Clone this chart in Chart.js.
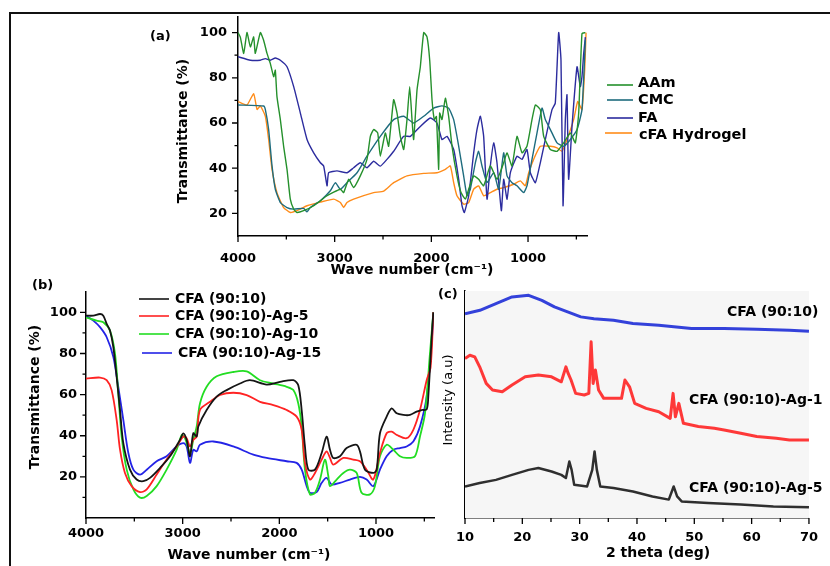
<!DOCTYPE html>
<html>
<head>
<meta charset="utf-8">
<script src="https://cdn.jsdelivr.net/npm/chart.js@4.4.1/dist/chart.umd.min.js"></script>
<style>
  body { margin: 0; background: #fff; width: 830px; height: 566px; overflow: hidden; position: relative; }
  canvas { position: absolute; }
  #frame { position: absolute; left: 9px; top: 12px; width: 821px; height: 554px;
           border-left: 2px solid #111; border-top: 2px solid #111; }
</style>
</head>
<body>
<div id="frame"></div>
<canvas id="chartA" width="690" height="286" style="left:140px;top:-2px"></canvas>
<canvas id="chartB" width="430" height="291" style="left:11px;top:275px"></canvas>
<canvas id="chartC" width="398" height="291" style="left:432px;top:275px"></canvas>
<script>
// ---- (a) FTIR of the raw materials ----
const aamWn = [4000,3976,3941,3907,3872,3838,3821,3769,3735,3700,3666,3631,3614,3597,3562,3528,3493,3459,3424,3390,3321,3217,3079,2941,2907,2855,2804,2735,2666,2631,2597,2555,2528,2476,2442,2390,2355,2321,2286,2252,2224,2200,2183,2148,2114,2079,2045,2017,1993,1969,1948,1924,1914,1890,1855,1821,1786,1735,1693,1648,1614,1562,1511,1459,1390,1321,1252,1217,1166,1114,1062,1011,959,924,873,838,769,700,631,562,511,476,442,407];
const aamT  = [100,98,90.8,100,93.7,98.1,90.8,100,96.6,90.8,86.4,80.5,83.4,71.7,61.5,49.7,39.5,26.3,21.9,20.4,21.2,23.4,27.8,30.7,29.2,35.1,31.4,36.6,43.9,54.1,57.1,55.6,45.3,55.6,49.7,70.3,64.4,54.1,48.3,61.5,76.1,61.5,52.7,74.7,84.9,100,98.1,87.8,70.3,61.5,62.9,39.5,64.4,61.5,71,62.9,49.7,36.6,29.2,26.3,30.7,36.6,35.1,32.2,41,35.1,42.4,46.8,41,54.1,46.8,49.7,61.5,68,65.9,54.1,48.3,47.5,51.2,55.6,51.2,64.4,99.6,100];

const cmcWn = [4000,3735,3717,3683,3648,3614,3562,3493,3424,3321,3286,3252,3148,3045,2993,2941,2873,2769,2666,2528,2390,2286,2183,2079,1976,1890,1821,1769,1717,1666,1631,1597,1545,1511,1476,1424,1355,1304,1252,1217,1166,1114,1045,1011,959,907,855,821,769,700,631,562,493,442,407];
const cmcT  = [68,67.5,65.9,57.1,41,30.7,24.8,22.6,21.9,22.2,20.7,22.6,25.6,30,33.6,30.7,33.6,38,45.3,54.1,61.5,63,60,63,66.6,67.6,66.6,61.5,49.7,36.6,27.8,30.7,42.4,47.5,41,33.6,38,30.7,46.8,36.6,33.6,32.2,29.2,32.2,43.9,55.6,66.6,61.5,57.1,51.2,49.7,52.7,57.1,65.9,96.6];

const faWn = [4000,3872,3769,3717,3666,3614,3562,3493,3424,3355,3286,3217,3148,3114,3079,3062,2976,2873,2804,2735,2666,2597,2528,2459,2390,2286,2217,2114,2010,1942,1890,1838,1769,1717,1683,1659,1614,1562,1528,1493,1459,1424,1390,1355,1321,1276,1252,1217,1183,1114,1062,1011,976,924,873,821,752,718,683,659,638,614,597,580,545,493,459,442,424,407];
const faT  = [89.3,87.8,87.8,88.5,87.8,88.8,87.8,84.9,76.1,64.4,52.7,46.8,42.4,41,32.2,38,38.8,38,40.2,42.4,40.2,43.1,40.9,43.9,47.5,54.1,54.1,58.5,62.2,60,52.7,54.1,48.3,35.1,23.4,20.4,27.8,46.8,57.1,63,54.1,26.3,41,51.2,42.4,21.2,35.1,26.3,38,45.3,43.9,48.3,38,33.6,42.4,52.7,65.9,68.8,100,87.8,23.4,61.5,72.5,35.1,58.5,84.9,76.1,80.5,90.8,98];

const cfaWn = [4000,3907,3838,3803,3769,3717,3683,3648,3597,3528,3459,3390,3286,3148,3010,2941,2907,2873,2804,2597,2493,2390,2252,2079,1942,1855,1804,1769,1735,1666,1614,1562,1511,1459,1390,1321,1252,1149,1080,1028,993,942,873,769,700,649,597,528,486,442,414,400];
const cfaT  = [69.5,68,73,66,67.5,63,52.7,39.5,29.2,22.6,20.4,21.2,23.4,25,26.3,24.8,22.6,24.8,26.3,29.2,29.9,33.6,36.6,37.7,38,39.5,41,33.6,27.8,24.1,24.8,30.7,32.2,27.8,29.2,30.7,31.4,32.9,34.4,32.2,38,43.9,49.7,49.7,49,47.5,52.7,61.5,69.5,65.9,83.4,100];

// ---- (b) FTIR of the Ag loaded hydrogels ----
const blackWn = [4000,3924,3855,3821,3786,3752,3717,3683,3648,3614,3545,3476,3407,3338,3235,3131,3028,2993,2959,2924,2890,2855,2838,2752,2648,2545,2407,2304,2131,1993,1855,1804,1769,1735,1700,1631,1562,1511,1476,1442,1373,1304,1200,1166,1114,1028,993,959,890,838,786,717,649,580,528,476,459,424,407];
const blackT  = [98.4,98.4,99.2,98.4,94.4,91.2,83,68.6,52.5,36.4,23.5,18.7,17.9,19.5,24.3,30,38,41.2,38,30,41.2,39.6,44.5,52.5,59,62.2,65.4,67,64.9,66.2,67,64.6,52.5,34.8,23.5,23.5,31.6,39.6,33.2,29.2,30,34,35.6,32.4,23.5,21.9,23.5,41.2,49.3,53.3,50.9,50.1,50.1,51.7,52.5,52.8,59,87.9,100];

const ag5Wn = [4000,3855,3786,3735,3683,3648,3597,3528,3441,3372,3269,3166,3062,2993,2959,2924,2890,2855,2821,2717,2614,2476,2338,2200,2062,1924,1821,1769,1735,1683,1631,1562,1511,1476,1442,1338,1235,1166,1097,1028,959,890,838,786,683,614,545,476,435,407];
const ag5T  = [67.8,68.3,67,62.2,47.7,33.2,21.9,15.5,12.6,13.9,21.1,28.4,34.8,39.6,38.8,34.8,38,39.6,52.5,56.5,59.8,60.9,59.8,56.5,54.9,52.5,49.3,42.9,26.8,18.7,21.9,28.4,32.4,29.2,26,29.2,28.4,27.6,23.5,18.7,31.6,41.2,42,40.4,38.8,42.9,52.5,67,73.4,100];

const ag10Wn = [4000,3890,3821,3752,3700,3666,3631,3579,3510,3441,3372,3269,3166,3062,3010,2976,2924,2890,2855,2821,2752,2648,2476,2338,2200,2062,1924,1855,1804,1769,1735,1683,1631,1579,1528,1493,1476,1407,1338,1269,1200,1149,1062,1011,959,890,821,752,683,597,545,493,442,407];
const ag10T  = [97.6,96,95.2,91.1,79.9,60.6,39.6,23.5,13.9,9.9,10.7,15.5,23.5,33.2,40.4,38.8,31.6,38,44.5,55.7,63.8,68.9,71,71.3,67,65.4,63.8,62.2,55.7,44.5,23.5,11.5,12.3,18.7,28.4,20.3,15.5,18.7,21.9,23.5,21.9,12.3,11.5,15.5,30,35.6,33.2,30,29.2,30,39.6,50.9,79.9,100];

const ag15Wn = [4000,3924,3855,3786,3717,3666,3614,3562,3510,3441,3372,3269,3166,3062,2993,2959,2924,2890,2855,2821,2683,2476,2269,2131,1924,1821,1769,1717,1683,1614,1562,1511,1459,1373,1269,1166,1097,1028,959,890,821,752,683,614,545,476,424,407];
const ag15T  = [98.4,96,92.8,87.9,78.3,63.8,47.7,31.6,23.5,21.1,23.5,27.6,30,34.8,36.4,34.8,26.8,33.2,32.4,35.6,37.2,34.8,30.8,29.2,27.6,26.8,23.5,15.5,12.3,12.6,17.1,19.5,16.3,17.1,18.7,20,18.7,15.5,23.5,30,33.2,34,34.8,37.2,44.5,59,85.3,100];

// ---- (c) XRD ----
const xrdBlue2t = [10,12.6,15.4,18.2,21.1,23.4,25.6,27.9,30.2,32.5,35.9,39.3,43.8,49.5,55.2,60.9,66.6,70];
const xrdBlueI  = [90,91.5,94.4,97.4,98.1,95.9,93,90.8,88.6,87.8,87.1,85.7,84.9,83.5,83.5,83.1,82.7,82.3];
const xrdRed2t  = [10,10.85,11.7,12.56,13.7,14.8,16.5,18.2,20.5,22.8,25.1,26.8,27.6,28,28.5,29.3,30.8,31.6,32,32.35,32.75,33.3,34.2,35.9,37.3,37.9,38.7,39.6,41.6,43.8,45.8,46.3,46.7,47.3,48.1,50.7,53.5,55.2,58.1,60.9,64.3,66.6,70];
const xrdRedI   = [70.3,71.7,71,66.6,59.3,56.4,55.6,58.6,62.2,63,62.2,60,66.6,63.7,60.8,54.9,54.2,54.9,77.6,59.3,65.2,56.4,52.7,52.7,52.7,60.8,57.8,50.5,48.3,46.8,43.9,54.9,44.6,50.5,41.7,40.3,39.5,38.8,37.3,35.9,35.1,34.4,34.4];
const xrdBlack2t = [10,12.56,15.4,18.2,21.1,22.8,25.1,26.8,27.6,28.2,28.6,29.05,31.3,32.2,32.6,33,33.6,35.9,39.3,42.7,45.55,46.4,47,47.8,52.4,58.1,63.8,70];
const xrdBlackI  = [13.9,15.4,16.8,19,21.2,22,20.5,19,17.6,24.9,21.2,14.6,13.9,21.2,29.3,21.2,13.9,13.2,11.7,9.5,8.1,13.9,9.5,7.3,6.6,5.9,5.1,4.7];

// tick values
const wnMajor = [4000, 3000, 2000, 1000];
const wnMinor = [3500, 2500, 1500, 500];
const tMajor = [20, 40, 60, 80, 100];
const tMinorA = [30, 50, 70, 90];
const tMinorB = [10, 30, 50, 70, 90];
const thetaMajor = [10, 20, 30, 40, 50, 60, 70];
const thetaMinor = [15, 25, 35, 45, 55, 65];

const bold = s => `bold ${s}px "DejaVu Sans"`;
const pts = (xs, ys) => xs.map((x, i) => ({ x, y: ys[i] }));

// draws ticks, titles, legends and the panel background
const decor = {
  id: 'decor',
  beforeDatasetsDraw(chart, args, o) {
    if (!o.bg) return;
    const a = chart.chartArea;
    chart.ctx.save();
    chart.ctx.fillStyle = o.bg;
    chart.ctx.fillRect(a.left, a.top, a.right - a.left, a.bottom - a.top);
    chart.ctx.restore();
  },
  afterDraw(chart, args, o) {
    const { ctx, scales: { x, y } } = chart;
    ctx.save();
    ctx.strokeStyle = '#000';
    ctx.lineWidth = 1.3;
    ctx.beginPath();
    (o.xTicks || []).forEach(([v, len]) => {
      const p = x.getPixelForValue(v);
      ctx.moveTo(p, y.bottom); ctx.lineTo(p, y.bottom + len);
    });
    (o.yTicks || []).forEach(([v, len]) => {
      const p = y.getPixelForValue(v);
      ctx.moveTo(x.left, p); ctx.lineTo(x.left - len, p);
    });
    ctx.stroke();

    (o.keys || []).forEach(k => {
      ctx.strokeStyle = chart.data.datasets[k.ds].borderColor;
      ctx.lineWidth = 1.6;
      ctx.beginPath(); ctx.moveTo(k.x1, k.y); ctx.lineTo(k.x2, k.y); ctx.stroke();
    });

    ctx.textBaseline = 'middle';
    (o.texts || []).forEach(t => {
      ctx.save();
      ctx.font = t.font;
      ctx.fillStyle = '#000';
      ctx.textAlign = t.align || 'left';
      ctx.translate(t.x, t.y);
      if (t.rot) ctx.rotate(t.rot);
      ctx.fillText(t.text, 0, 0);
      ctx.restore();
    });
    ctx.restore();
  }
};

function makePanel(id, p) {
  return new Chart(document.getElementById(id), {
    type: 'line',
    data: { datasets: p.datasets },
    options: {
      responsive: false,
      animation: false,
      devicePixelRatio: 1,
      layout: { padding: p.padding, autoPadding: false },
      elements: { point: { radius: 0 }, line: { tension: p.tension, borderJoinStyle: 'round' } },
      plugins: { legend: { display: false }, tooltip: { enabled: false }, decor: p.decor },
      scales: {
        x: {
          type: 'linear', reverse: p.reverse, min: p.xMin, max: p.xMax,
          afterFit: s => { s.height = 48; },
          afterBuildTicks: s => { s.ticks = p.xLabels.map(v => ({ value: v })); },
          grid: { display: false, drawTicks: false },
          border: { display: true, color: '#000', width: 1.5 },
          ticks: { autoSkip: false, maxRotation: 0, color: '#000', font: { family: 'DejaVu Sans', weight: 'bold', size: 13 },
                   padding: p.xPad, callback: v => String(v) }
        },
        y: {
          min: p.yMin, max: p.yMax,
          afterFit: s => { s.width = p.yWidth; },
          afterBuildTicks: s => { s.ticks = p.yLabels.map(v => ({ value: v })); },
          grid: { display: false, drawTicks: false },
          border: { display: true, color: '#000', width: 1.5 },
          ticks: { display: p.yLabels.length > 0, color: '#000', font: { family: 'DejaVu Sans', weight: 'bold', size: 13 },
                   padding: p.yPad, callback: v => String(v) }
        }
      }
    },
    plugins: [decor]
  });
}

const major = (arr, len) => arr.map(v => [v, len]);

// panel (a)
makePanel('chartA', {
  datasets: [
    { label: 'AAm', data: pts(aamWn, aamT), borderColor: '#25902c', borderWidth: 1.4 },
    { label: 'CMC', data: pts(cmcWn, cmcT), borderColor: '#1e6c7e', borderWidth: 1.4 },
    { label: 'FA', data: pts(faWn, faT), borderColor: '#2c2c9e', borderWidth: 1.4 },
    { label: 'cFA Hydrogel', data: pts(cfaWn, cfaT), borderColor: '#ff8c1a', borderWidth: 1.4 }
  ],
  tension: 0.15, reverse: true, xMin: 390, xMax: 4000, yMin: 10, yMax: 107,
  padding: { top: 1, right: 243, left: 0, bottom: 0 },
  yWidth: 98, xPad: 15, yPad: 11,
  xLabels: wnMajor, yLabels: tMajor,
  decor: {
    xTicks: major(wnMajor, 6).concat(major(wnMinor, 3.5)),
    yTicks: major(tMajor, 6).concat(major(tMinorA, 3.5)),
    keys: [
      { ds: 0, x1: 467, x2: 493, y: 87 },
      { ds: 1, x1: 467, x2: 493, y: 102 },
      { ds: 2, x1: 467, x2: 493, y: 120 },
      { ds: 3, x1: 465, x2: 492, y: 135 }
    ],
    texts: [
      { text: '(a)', x: 10, y: 39, font: bold(13) },
      { text: 'Transmittance (%)', x: 43, y: 133, font: bold(14), align: 'center', rot: -Math.PI / 2 },
      { text: 'Wave number (cm⁻¹)', x: 272, y: 272, font: bold(14), align: 'center' },
      { text: 'AAm', x: 498, y: 85, font: bold(14.5) },
      { text: 'CMC', x: 498, y: 102, font: bold(14.5) },
      { text: 'FA', x: 498, y: 120, font: bold(14.5) },
      { text: 'cFA Hydrogel', x: 499, y: 137, font: bold(14.5) }
    ]
  }
});

// panel (b)
makePanel('chartB', {
  datasets: [
    { label: 'CFA (90:10)', data: pts(blackWn, blackT), borderColor: '#151515', borderWidth: 1.8 },
    { label: 'CFA (90:10)-Ag-5', data: pts(ag5Wn, ag5T), borderColor: '#ff2323', borderWidth: 1.8 },
    { label: 'CFA (90:10)-Ag-10', data: pts(ag10Wn, ag10T), borderColor: '#22dd22', borderWidth: 1.8 },
    { label: 'CFA (90:10)-Ag-15', data: pts(ag15Wn, ag15T), borderColor: '#2323e6', borderWidth: 1.8 }
  ],
  tension: 0.3, reverse: true, xMin: 400, xMax: 4000, yMin: 0, yMax: 110,
  padding: { top: 16, right: 7, left: 0, bottom: 0 },
  yWidth: 75, xPad: 8, yPad: 9,
  xLabels: wnMajor, yLabels: tMajor,
  decor: {
    xTicks: major(wnMajor, 6).concat(major(wnMinor, 3.5)),
    yTicks: major(tMajor, 6).concat(major(tMinorB, 3.5)),
    keys: [
      { ds: 0, x1: 128, x2: 158, y: 24 },
      { ds: 1, x1: 128, x2: 158, y: 41 },
      { ds: 2, x1: 128, x2: 158, y: 59 },
      { ds: 3, x1: 131, x2: 161, y: 78 }
    ],
    texts: [
      { text: '(b)', x: 21, y: 11, font: bold(13) },
      { text: 'Transmittance (%)', x: 24, y: 122, font: bold(14), align: 'center', rot: -Math.PI / 2 },
      { text: 'Wave number (cm⁻¹)', x: 238, y: 280, font: bold(14), align: 'center' },
      { text: 'CFA (90:10)', x: 164, y: 24, font: bold(14) },
      { text: 'CFA (90:10)-Ag-5', x: 164, y: 41, font: bold(14) },
      { text: 'CFA (90:10)-Ag-10', x: 164, y: 59, font: bold(14) },
      { text: 'CFA (90:10)-Ag-15', x: 167, y: 78, font: bold(14) }
    ]
  }
});

// panel (c)
makePanel('chartC', {
  datasets: [
    { label: 'CFA (90:10)', data: pts(xrdBlue2t, xrdBlueI), borderColor: 'rgba(30,45,215,0.9)', borderWidth: 3 },
    { label: 'CFA (90:10)-Ag-10', data: pts(xrdRed2t, xrdRedI), borderColor: 'rgba(255,35,35,0.9)', borderWidth: 3 },
    { label: 'CFA (90:10)-Ag-5', data: pts(xrdBlack2t, xrdBlackI), borderColor: 'rgba(25,25,25,0.9)', borderWidth: 2.5 }
  ],
  tension: 0, reverse: false, xMin: 10, xMax: 70, yMin: 0, yMax: 100,
  padding: { top: 16, right: 13, left: 0, bottom: 0 },
  yWidth: 33, xPad: 12, yPad: 0,
  xLabels: thetaMajor, yLabels: [],
  decor: {
    bg: '#f6f6f6',
    xTicks: major(thetaMajor, 6).concat(major(thetaMinor, 4)),
    texts: [
      { text: '(c)', x: 6, y: 20, font: bold(13) },
      { text: 'Intensity (a.u)', x: 17, y: 125, font: '13px "DejaVu Sans"', align: 'center', rot: -Math.PI / 2 },
      { text: '2 theta (deg)', x: 226, y: 278, font: bold(14), align: 'center' },
      { text: 'CFA (90:10)', x: 295, y: 37, font: bold(14) },
      { text: 'CFA (90:10)-Ag-1', x: 257, y: 125, font: bold(14) },
      { text: 'CFA (90:10)-Ag-5', x: 257, y: 213, font: bold(14) }
    ]
  }
});
</script>
</body>
</html>
